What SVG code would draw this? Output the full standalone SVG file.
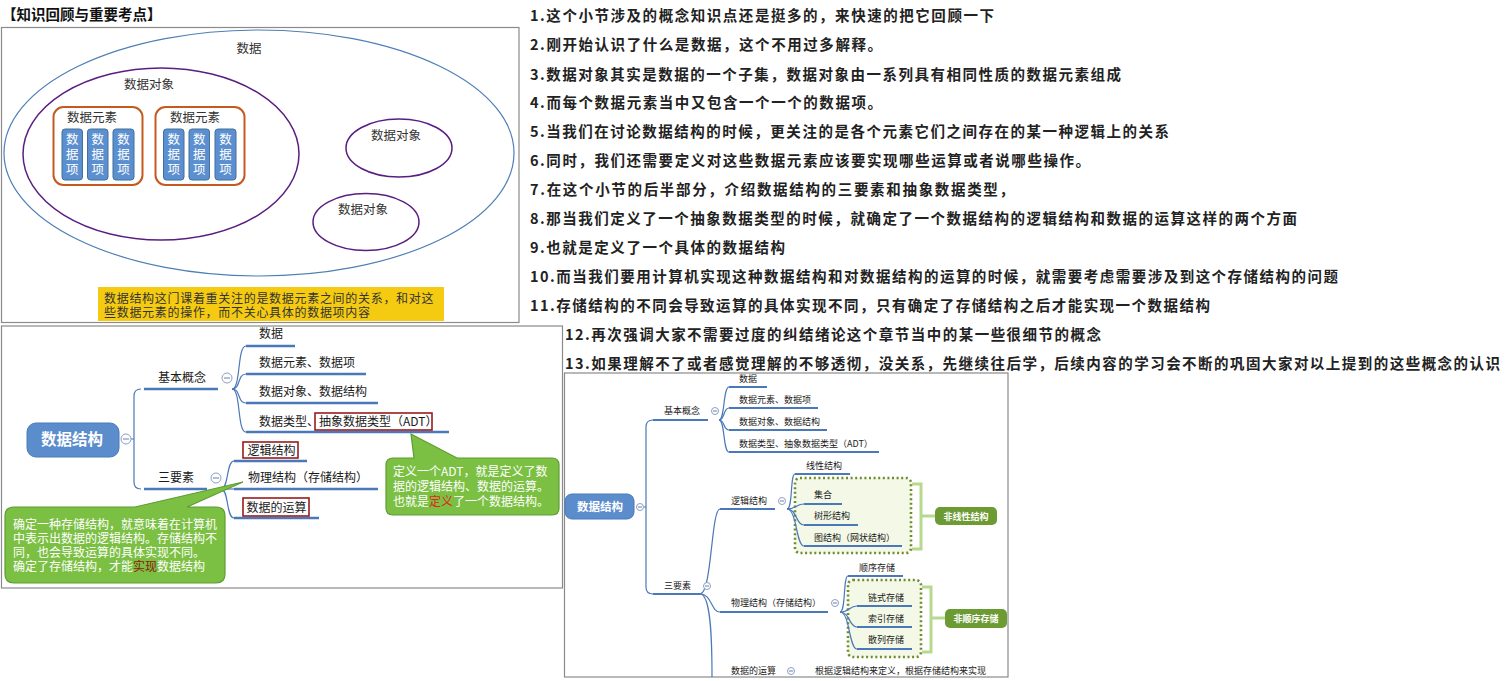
<svg xmlns="http://www.w3.org/2000/svg" width="1506" height="681" viewBox="0 0 1506 681">
<style>
text{font-family:"Noto Sans CJK SC","Noto Sans",sans-serif;fill:#222}
.h{font-size:14.5px;font-weight:bold;fill:#111}
.r{font-size:14.5px;font-weight:bold;fill:#222}
.t12{font-size:12.5px;fill:#333}
.y12{font-size:12px;fill:#333;letter-spacing:0.7px}
.it{font-size:12.5px;fill:#fff;writing-mode:vertical-rl;letter-spacing:2.5px}
.m{font-size:12px;fill:#1a1a1a}
.s{font-size:9px;fill:#1a1a1a}
.cw{font-size:12px;fill:#fff}
.frame{fill:#fff;stroke:#8a8a8a;stroke-width:1.2}
.ul{stroke:#4a78b8;stroke-width:2.6;fill:none}
.ul2{stroke:#4a78b8;stroke-width:2;fill:none}
.cn{stroke:#4a78b8;stroke-width:1.2;fill:none}
.col{fill:#fff;stroke:#8c9fc4;stroke-width:1}
.colm{stroke:#6b7fa8;stroke-width:1}
.rb{fill:#fff;stroke:#9b1b1b;stroke-width:1.6}
.el{fill:none;stroke:#c55a1e;stroke-width:2}
.itm{fill:#5b8fcf;stroke:#41719c;stroke-width:1}
.green{fill:#7bc043;stroke:#5e9c33;stroke-width:1.2}
.dot{fill:#f3f8e7;stroke:#6e8b2e;stroke-width:2.6;stroke-dasharray:2 2.6}
.br{fill:none;stroke:#b7d98f;stroke-width:3}
.gl{fill:#6d9b33}
.glt{font-size:9px;font-weight:bold;fill:#fff;text-anchor:middle}
</style>

<text class="h" x="2" y="19.5">【知识回顾与重要考点】</text>

<g id="panel-concepts">
<rect class="frame" x="1.5" y="27.5" width="517.5" height="295"/>
<g id="data">
<ellipse cx="259" cy="153" rx="255" ry="123" fill="none" stroke="#4d7fb5" stroke-width="1.2"/>
<text class="t12" x="249" y="53" text-anchor="middle">数据</text>
</g>
<g id="data-object-1">
<ellipse cx="161" cy="154" rx="138" ry="86" fill="none" stroke="#5a1e82" stroke-width="1.5"/>
<text class="t12" x="149" y="88.5" text-anchor="middle">数据对象</text>
</g>
<g id="element-1">
<rect class="el" x="53.5" y="107" width="89" height="78" rx="10"/>
<text class="t12" x="92" y="121.5" text-anchor="middle">数据元素</text>
<rect class="itm" x="62" y="129" width="20.5" height="51" rx="3"/>
<rect class="itm" x="87.5" y="129" width="20.5" height="51" rx="3"/>
<rect class="itm" x="113" y="129" width="21" height="51" rx="3"/>
<text class="it" x="72.2" y="132.5">数据项</text>
<text class="it" x="97.7" y="132.5">数据项</text>
<text class="it" x="123.5" y="132.5">数据项</text>
</g>
<g id="element-2">
<rect class="el" x="155.5" y="107" width="89" height="78" rx="10"/>
<text class="t12" x="195" y="121.5" text-anchor="middle">数据元素</text>
<rect class="itm" x="163.5" y="129" width="20.5" height="51" rx="3"/>
<rect class="itm" x="189" y="129" width="20.5" height="51" rx="3"/>
<rect class="itm" x="215" y="129" width="21" height="51" rx="3"/>
<text class="it" x="173.7" y="132.5">数据项</text>
<text class="it" x="199.2" y="132.5">数据项</text>
<text class="it" x="225.5" y="132.5">数据项</text>
</g>
<g id="data-object-2">
<ellipse cx="399" cy="148" rx="53" ry="29" fill="none" stroke="#5a1e82" stroke-width="1.5"/>
<text class="t12" x="396" y="139.5" text-anchor="middle">数据对象</text>
</g>
<g id="data-object-3">
<ellipse cx="366" cy="222" rx="53" ry="28.5" fill="none" stroke="#5a1e82" stroke-width="1.5"/>
<text class="t12" x="363" y="213.5" text-anchor="middle">数据对象</text>
</g>
<g id="note-yellow">
<rect x="98" y="287" width="346" height="34" fill="#f5cb12"/>
<text class="y12" x="104" y="303">数据结构这门课着重关注的是数据元素之间的关系，和对这</text>
<text class="y12" x="104" y="317">些数据元素的操作，而不关心具体的数据项内容</text>
</g>
</g>

<g id="panel-mindmap-1">
<rect class="frame" x="1.5" y="326" width="561" height="262"/>
<g id="mm1-connectors">
<path class="cn" d="M131,439 H134 M134,439 V396 Q134,389 141,389"/>
<path class="cn" d="M134,439 V482 Q134,489 141,489"/>
<path class="ul" d="M144,389 H218"/>
<path class="ul" d="M144,489 H207"/>
<path class="cn" d="M232,389 C241,389 237,346 246,346"/>
<path class="cn" d="M232,389 C241,389 237,374 246,374"/>
<path class="cn" d="M232,389 C241,389 237,403 246,403"/>
<path class="cn" d="M232,389 C241,389 237,432 246,432"/>
<path class="cn" d="M221,489 C229,489 226,461 234,461"/>
<path class="cn" d="M221,489 H234"/>
<path class="cn" d="M221,489 C229,489 226,518 234,518"/>
<path class="ul" d="M246,346 H295 M246,374 H366 M246,403 H378 M246,432 H449"/>
<path class="ul" d="M234,461 H307 M234,489 H378 M234,518 H319"/>
</g>
<g id="mm1-root">
<rect x="27" y="423" width="92" height="34" rx="9" fill="#5b8ccc" stroke="#4a7ab8" stroke-width="1"/>
<text x="72" y="445" text-anchor="middle" style="font-size:15.5px;font-weight:bold;fill:#fff">数据结构</text>
<circle class="col" cx="126" cy="439" r="5"/><path class="colm" d="M123,439 H129"/>
</g>
<g id="mm1-basic">
<text class="m" x="158" y="382">基本概念</text>
<circle class="col" cx="227" cy="378" r="5"/><path class="colm" d="M224,378 H230"/>
</g>
<g id="mm1-three">
<text class="m" x="158" y="482">三要素</text>
<circle class="col" cx="216" cy="478" r="5"/><path class="colm" d="M213,478 H219"/>
</g>
<g id="mm1-b1"><text class="m" x="259" y="338">数据</text></g>
<g id="mm1-b2"><text class="m" x="259" y="367">数据元素、数据项</text></g>
<g id="mm1-b3"><text class="m" x="259" y="396">数据对象、数据结构</text></g>
<g id="mm1-b4">
<rect class="rb" x="315" y="413" width="117" height="17"/>
<text class="m" x="259" y="426">数据类型、抽象数据类型（ADT）</text>
</g>
<g id="mm1-t1">
<rect class="rb" x="243" y="442" width="55" height="16"/>
<text class="m" x="247.5" y="454.5">逻辑结构</text>
</g>
<g id="mm1-t2"><text class="m" x="248" y="482">物理结构（存储结构）</text></g>
<g id="mm1-t3">
<rect class="rb" x="243" y="498" width="66" height="18"/>
<text class="m" x="246.5" y="511.5">数据的运算</text>
</g>
<g id="callout-adt">
<path class="green" d="M393,458 H414 L411,434 L457,458 H552 Q559,458 559,465 V508 Q559,515 552,515 H393 Q386,515 386,508 V465 Q386,458 393,458 Z"/>
<text class="cw" x="393" y="476">定义一个ADT，就是定义了数</text>
<text class="cw" x="393" y="491">据的逻辑结构、数据的运算。</text>
<text class="cw" x="393" y="506">也就是<tspan style="fill:#e0261c">定义</tspan>了一个数据结构。</text>
</g>
<g id="callout-storage">
<path class="green" d="M14,507 H135 L243,482 L187,507 H216 Q225,507 225,516 V574 Q225,583 216,583 H14 Q5,583 5,574 V516 Q5,507 14,507 Z"/>
<text class="cw" x="13" y="529">确定一种存储结构，就意味着在计算机</text>
<text class="cw" x="13" y="543">中表示出数据的逻辑结构。存储结构不</text>
<text class="cw" x="13" y="557">同，也会导致运算的具体实现不同。</text>
<text class="cw" x="13" y="571">确定了存储结构，才能<tspan style="fill:#8b1a10">实现</tspan>数据结构</text>
</g>
</g>

<g id="notes">
<text class="r" x="530" y="20.5" textLength="464">1.这个小节涉及的概念知识点还是挺多的，来快速的把它回顾一下</text>
<text class="r" x="530" y="50" textLength="352">2.刚开始认识了什么是数据，这个不用过多解释。</text>
<text class="r" x="530" y="79.5" textLength="591">3.数据对象其实是数据的一个子集，数据对象由一系列具有相同性质的数据元素组成</text>
<text class="r" x="530" y="108" textLength="352">4.而每个数据元素当中又包含一个一个的数据项。</text>
<text class="r" x="530" y="137" textLength="639">5.当我们在讨论数据结构的时候，更关注的是各个元素它们之间存在的某一种逻辑上的关系</text>
<text class="r" x="530" y="166" textLength="560">6.同时，我们还需要定义对这些数据元素应该要实现哪些运算或者说哪些操作。</text>
<text class="r" x="530" y="195" textLength="484">7.在这个小节的后半部分，介绍数据结构的三要素和抽象数据类型，</text>
<text class="r" x="530" y="223.5" textLength="767">8.那当我们定义了一个抽象数据类型的时候，就确定了一个数据结构的逻辑结构和数据的运算这样的两个方面</text>
<text class="r" x="530" y="252.5" textLength="255">9.也就是定义了一个具体的数据结构</text>
<text class="r" x="530" y="281.5" textLength="808">10.而当我们要用计算机实现这种数据结构和对数据结构的运算的时候，就需要考虑需要涉及到这个存储结构的问题</text>
<text class="r" x="530" y="310.5" textLength="680">11.存储结构的不同会导致运算的具体实现不同，只有确定了存储结构之后才能实现一个数据结构</text>
<text class="r" x="565" y="339.5" textLength="536">12.再次强调大家不需要过度的纠结绪论这个章节当中的某一些很细节的概念</text>
<text class="r" x="565" y="368.5" textLength="935">13.如果理解不了或者感觉理解的不够透彻，没关系，先继续往后学，后续内容的学习会不断的巩固大家对以上提到的这些概念的认识</text>
</g>

<g id="panel-mindmap-2">
<rect class="frame" x="564.5" y="373" width="443.5" height="304"/>
<g id="mm2-groups">
<rect class="dot" x="795" y="478" width="116" height="75" rx="5"/>
<path class="br" d="M912,484 H921 V549 H912 M921,516 H935"/>
<rect class="dot" x="848" y="580" width="73" height="77" rx="5"/>
<path class="br" d="M922,587 H931 V652 H922 M931,618 H945"/>
</g>
<g id="mm2-connectors">
<path class="cn" d="M644,507 H646 M646,507 V427 Q646,420 653,420"/>
<path class="cn" d="M646,507 V587 Q646,594 653,594"/>
<path class="ul2" d="M653,420 H708 M653,594 H700"/>
<path class="cn" d="M719,420 C725,420 723,387 729,387"/>
<path class="cn" d="M719,420 C725,420 723,408 729,408"/>
<path class="cn" d="M719,420 C725,420 723,430 729,430"/>
<path class="cn" d="M719,420 C725,420 723,452 729,452"/>
<path class="ul2" d="M729,387 H767 M729,408 H818 M729,430 H827 M729,452 H879"/>
<path class="cn" d="M700,594 C712,594 711,509 720,509"/>
<path class="cn" d="M700,594 C712,594 711,612 720,612"/>
<path class="cn" d="M700,594 C711,594 712,640 712,677"/>
<path class="ul2" d="M720,509 H775 M720,612 H828"/>
<path class="cn" d="M787,509 C793,509 790,474 795,474"/>
<path class="cn" d="M787,509 C797,509 796,504 804,504"/>
<path class="cn" d="M787,509 C797,509 796,525 804,525"/>
<path class="cn" d="M787,509 C797,509 796,546 804,546"/>
<path class="ul2" d="M795,474 H850 M804,504 H842 M804,525 H858 M804,546 H902"/>
<path class="cn" d="M840,612 C846,612 843,576 848,576"/>
<path class="cn" d="M840,612 C850,612 849,606 857,606"/>
<path class="cn" d="M840,612 C850,612 849,627 857,627"/>
<path class="cn" d="M840,612 C850,612 849,649 857,649"/>
<path class="ul2" d="M848,576 H903 M857,606 H912 M857,627 H912 M857,649 H912"/>
</g>
<g id="mm2-root">
<rect x="565" y="494" width="69" height="25" rx="7" fill="#5b8ccc" stroke="#4a7ab8" stroke-width="1"/>
<text x="600" y="511" text-anchor="middle" style="font-size:11.5px;font-weight:bold;fill:#fff">数据结构</text>
<circle class="col" cx="640" cy="507" r="3.5"/><path class="colm" d="M638,507 H642"/>
</g>
<g id="mm2-basic">
<text class="s" x="664" y="414">基本概念</text>
<circle class="col" cx="715" cy="411" r="3.5"/><path class="colm" d="M713,411 H717"/>
</g>
<g id="mm2-b1"><text class="s" x="739" y="382">数据</text></g>
<g id="mm2-b2"><text class="s" x="739" y="403">数据元素、数据项</text></g>
<g id="mm2-b3"><text class="s" x="739" y="425">数据对象、数据结构</text></g>
<g id="mm2-b4"><text class="s" x="739" y="447">数据类型、抽象数据类型（ADT）</text></g>
<g id="mm2-three">
<text class="s" x="664" y="589">三要素</text>
<circle class="col" cx="707" cy="586" r="3.5"/><path class="colm" d="M705,586 H709"/>
</g>
<g id="mm2-logic">
<text class="s" x="731" y="504">逻辑结构</text>
<circle class="col" cx="782" cy="501" r="3.5"/><path class="colm" d="M780,501 H784"/>
</g>
<g id="mm2-l1"><text class="s" x="806" y="469">线性结构</text></g>
<g id="mm2-l2"><text class="s" x="814" y="498">集合</text></g>
<g id="mm2-l3"><text class="s" x="814" y="519">树形结构</text></g>
<g id="mm2-l4"><text class="s" x="814" y="541">图结构（网状结构）</text></g>
<g id="mm2-nonlinear">
<rect class="gl" x="935" y="507" width="62" height="18" rx="5"/>
<text class="glt" x="966" y="519.5">非线性结构</text>
</g>
<g id="mm2-physical">
<text class="s" x="731" y="606">物理结构（存储结构）</text>
<circle class="col" cx="835" cy="603" r="3.5"/><path class="colm" d="M833,603 H837"/>
</g>
<g id="mm2-p1"><text class="s" x="859" y="571">顺序存储</text></g>
<g id="mm2-p2"><text class="s" x="868" y="601">链式存储</text></g>
<g id="mm2-p3"><text class="s" x="868" y="622">索引存储</text></g>
<g id="mm2-p4"><text class="s" x="868" y="643">散列存储</text></g>
<g id="mm2-nonseq">
<rect class="gl" x="945" y="609" width="62" height="19" rx="5"/>
<text class="glt" x="976" y="622">非顺序存储</text>
</g>
<g id="mm2-ops">
<text class="s" x="731" y="674">数据的运算</text>
<circle class="col" cx="791" cy="671" r="3.5"/><path class="colm" d="M789,671 H793"/>
<text class="s" x="815" y="674">根据逻辑结构来定义，根据存储结构来实现</text>
</g>
</g>
</svg>
